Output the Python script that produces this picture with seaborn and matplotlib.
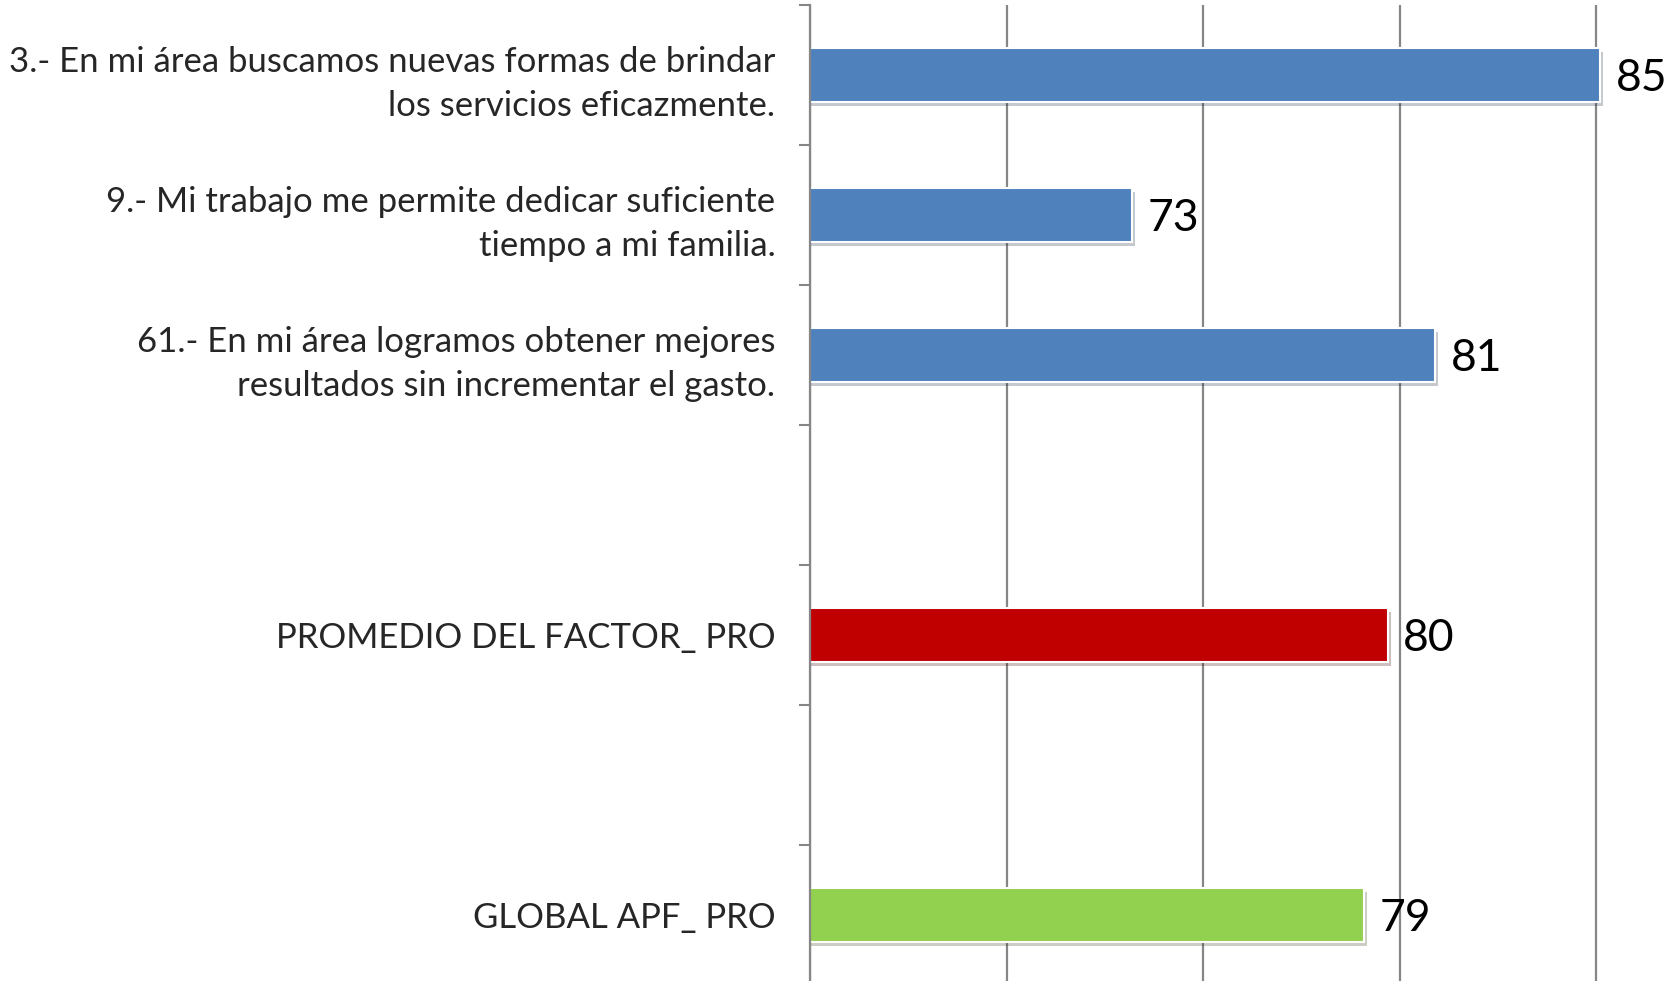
# -*- coding: utf-8 -*-

import matplotlib
matplotlib.use('Agg')
import matplotlib.pyplot as plt
import matplotlib.patheffects as pe
import seaborn as sns
import numpy as np
import pandas as pd

################################################################################

items = ['3.- En mi área buscamos nuevas formas de brindar\nlos servicios eficazmente.',
         '9.- Mi trabajo me permite dedicar suficiente\ntiempo a mi familia.',
         '61.- En mi área logramos obtener mejores\nresultados sin incrementar el gasto.',
         'PROMEDIO DEL FACTOR_ PRO',
         'GLOBAL APF_ PRO']
values = [85.1, 73.2, 80.9, 79.7, 79.1]
colors = ['#4F81BD', '#4F81BD', '#4F81BD', '#C00000', '#92D050']
# blank slots between groups
order = [items[0], items[1], items[2], '', items[3], ' ', items[4]]

df = pd.DataFrame({'item': items, 'value': values})

sns.set_theme(style='white')
plt.rcParams['font.family'] = ['Lato', 'DejaVu Sans']

fig = plt.figure(figsize=(16.76, 9.81), dpi=100)
ax = fig.add_axes([0.4833, -0.004, 0.5865, 0.999])

ax.xaxis.grid(True, color='#868686', linewidth=1.6)
ax.set_axisbelow(True)

sns.barplot(data=df, x='value', y='item', order=order, hue='item',
            palette=dict(zip(items, colors)), legend=False, width=0.39,
            saturation=1, edgecolor='white', linewidth=1.5, ax=ax)

for bar in ax.patches:
    bar.set_path_effects([pe.SimplePatchShadow(offset=(2, -3), alpha=0.25), pe.Normal()])

for cont in ax.containers:
    texts = ax.bar_label(cont, fmt='{:.0f}', padding=11, fontsize=32, color='black')
    for t in texts:
        t.set_va('center_baseline')

ax.set_xlim(65, 90)
ax.set_xticks(np.arange(65, 91, 5))
ax.tick_params(axis='x', bottom=False, labelbottom=False)
ax.set_xlabel('')
ax.set_ylabel('')
ax.set_ylim(6.5, -0.5)

# tick marks at slot boundaries, labels at slot centres
ax.set_yticks(np.arange(-0.5, 7.0, 1.0), minor=True)
ax.tick_params(axis='y', which='minor', left=True, length=8, width=1.5, color='#868686')
ax.tick_params(axis='y', which='major', left=False, length=0, pad=25, labelsize=25)
for lab in ax.get_yticklabels():
    lab.set_linespacing(1.45)

for s in ['top', 'right', 'bottom']:
    ax.spines[s].set_visible(False)
ax.spines['left'].set_color('#868686')
ax.spines['left'].set_linewidth(1.6)

fig.savefig('out.png', dpi=100)
